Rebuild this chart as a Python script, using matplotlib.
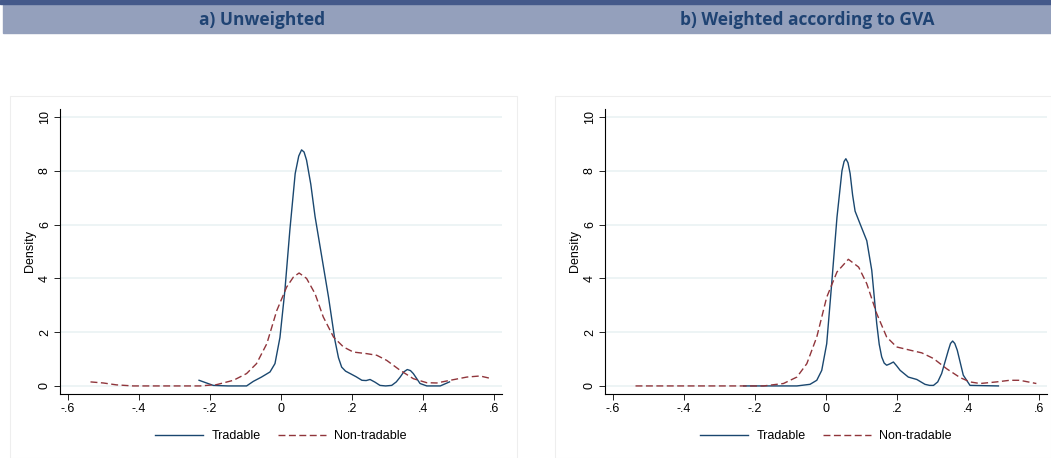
import numpy as np
import matplotlib.pyplot as plt
from matplotlib.patches import Rectangle

# panel titles
titles = ['a) Unweighted', 'b) Weighted according to GVA']

# a) unweighted densities (read off the picture)
a_trad_x = [-0.231, -0.191, -0.15, -0.097, -0.078, -0.055, -0.031, -0.017, -0.003, 0.011,
            0.025, 0.040, 0.050, 0.058, 0.065, 0.072, 0.084, 0.096, 0.115, 0.134, 0.152,
            0.162, 0.171, 0.182, 0.195, 0.212, 0.228, 0.240, 0.251, 0.265, 0.279, 0.295,
            0.312, 0.325, 0.336, 0.346, 0.356, 0.365, 0.373, 0.392, 0.411, 0.449, 0.475]
a_trad_y = [0.21, 0.02, 0.0, 0.0, 0.17, 0.33, 0.52, 0.83, 1.8, 3.56,
            5.8, 7.9, 8.55, 8.78, 8.7, 8.4, 7.5, 6.3, 4.8, 3.3, 1.7,
            1.05, 0.7, 0.55, 0.46, 0.34, 0.21, 0.2, 0.24, 0.14, 0.02, 0.0,
            0.02, 0.15, 0.33, 0.52, 0.61, 0.57, 0.46, 0.09, 0.0, 0.0, 0.15]
a_non_x = [-0.537, -0.501, -0.464, -0.417, -0.228, -0.181, -0.134, -0.097, -0.069, -0.040,
           -0.012, 0.016, 0.035, 0.051, 0.072, 0.096, 0.119, 0.148, 0.176, 0.204,
           0.242, 0.270, 0.298, 0.336, 0.373, 0.411, 0.439, 0.477, 0.524, 0.561, 0.594]
a_non_y = [0.15, 0.11, 0.04, 0.0, 0.0, 0.05, 0.21, 0.46, 0.83, 1.57,
           2.8, 3.68, 4.05, 4.2, 4.0, 3.43, 2.57, 1.82, 1.45, 1.26,
           1.2, 1.14, 0.95, 0.58, 0.27, 0.12, 0.11, 0.21, 0.33, 0.37, 0.27]

# b) weighted by GVA
b_trad_x = [-0.232, -0.082, -0.045, -0.026, -0.012, 0.002, 0.016, 0.031, 0.045, 0.051, 0.056,
            0.062, 0.068, 0.075, 0.082, 0.096, 0.115, 0.129, 0.143, 0.150, 0.157, 0.164,
            0.171, 0.180, 0.190, 0.199, 0.209, 0.232, 0.256, 0.279, 0.292, 0.303, 0.315,
            0.326, 0.345, 0.351, 0.357, 0.363, 0.370, 0.387, 0.406, 0.486]
b_trad_y = [0.0, 0.0, 0.06, 0.21, 0.58, 1.57, 3.8, 6.28, 8.0, 8.35, 8.45,
            8.3, 7.9, 7.1, 6.5, 6.03, 5.4, 4.3, 2.32, 1.55, 1.08, 0.85,
            0.77, 0.82, 0.89, 0.75, 0.58, 0.33, 0.24, 0.06, 0.02, 0.02, 0.15,
            0.46, 1.33, 1.58, 1.67, 1.58, 1.33, 0.4, 0.02, 0.0]
b_non_x = [-0.537, -0.176, -0.120, -0.082, -0.054, -0.026, 0.002, 0.031, 0.063, 0.092,
           0.115, 0.143, 0.171, 0.199, 0.237, 0.270, 0.303, 0.340, 0.378, 0.406,
           0.434, 0.481, 0.518, 0.546, 0.593]
b_non_y = [0.0, 0.0, 0.09, 0.33, 0.83, 1.82, 3.3, 4.24, 4.71, 4.42,
           3.8, 2.69, 1.82, 1.45, 1.33, 1.23, 1.02, 0.64, 0.31, 0.15,
           0.09, 0.15, 0.21, 0.21, 0.09]

x_ticks = [-0.6, -0.4, -0.2, 0, 0.2, 0.4, 0.6]
x_labels = ['-.6', '-.4', '-.2', '0', '.2', '.4', '.6']
y_ticks = [0, 2, 4, 6, 8, 10]

blue = '#1a476f'
red = '#90353b'
W, H = 1051, 458

fig = plt.figure(figsize=(W / 100, H / 100), dpi=100)
plt.rcParams['font.family'] = ['Liberation Sans', 'DejaVu Sans']

# header bands
fig.patches.append(Rectangle((3 / W, 1 - 33 / H), 1, 29 / H, transform=fig.transFigure,
                             color='#94a0bc', zorder=-2))
fig.patches.append(Rectangle((0, 1 - 4 / H), 1, 4 / H, transform=fig.transFigure,
                             color='#44598a', zorder=-2))
for cx, t in zip([262, 807], titles):
    fig.text(cx / W, 1 - 20 / H, t, ha='center', va='center', fontsize=12.5,
             fontweight='bold', color='#1f4373', family=['Open Sans', 'DejaVu Sans'])

# light panel frames
for (x0, x1) in [(10, 517), (555, 1051)]:
    fig.patches.append(Rectangle((x0 / W, 0), (x1 - x0) / W, 1 - 96 / H,
                                 transform=fig.transFigure, facecolor='white',
                                 edgecolor='#eeeeee', lw=0.8, zorder=-2))

panels = [
    (60, a_trad_x, a_trad_y, a_non_x, a_non_y),
    (605, b_trad_x, b_trad_y, b_non_x, b_non_y),
]
for left, tx, ty, nx, ny in panels:
    ax = fig.add_axes([left / W, 1 - 394 / H, 442 / W, 285 / H])
    ax.set_zorder(2)
    ax.patch.set_alpha(0)
    ax.plot(tx, ty, color=blue, lw=1.0, label='Tradable')
    ax.plot(nx, ny, color=red, lw=1.0, ls=(0, (5, 2.5)), label='Non-tradable')
    ax.set_xlim(-0.623, 0.623)
    ax.set_ylim(-0.3, 10.3)
    ax.set_xticks(x_ticks)
    ax.set_xticklabels(x_labels)
    ax.set_yticks(y_ticks)
    ax.set_yticklabels([str(v) for v in y_ticks], rotation=90, va='center')
    ax.tick_params(labelsize=9, length=4.5, width=0.6, pad=2)
    ax.grid(axis='y', color='#eaf2f3', lw=1.2)
    ax.set_axisbelow(True)
    for s in ['top', 'right']:
        ax.spines[s].set_visible(False)
    for s in ['left', 'bottom']:
        ax.spines[s].set_linewidth(0.8)
    ax.set_ylabel('Density', fontsize=9, labelpad=2)
    ax.legend(loc='center', bbox_to_anchor=(0.5, -0.147), ncol=2, frameon=False,
              fontsize=9, handlelength=3.8, handletextpad=0.7, columnspacing=1.4)

fig.savefig('out.png', dpi=100)
